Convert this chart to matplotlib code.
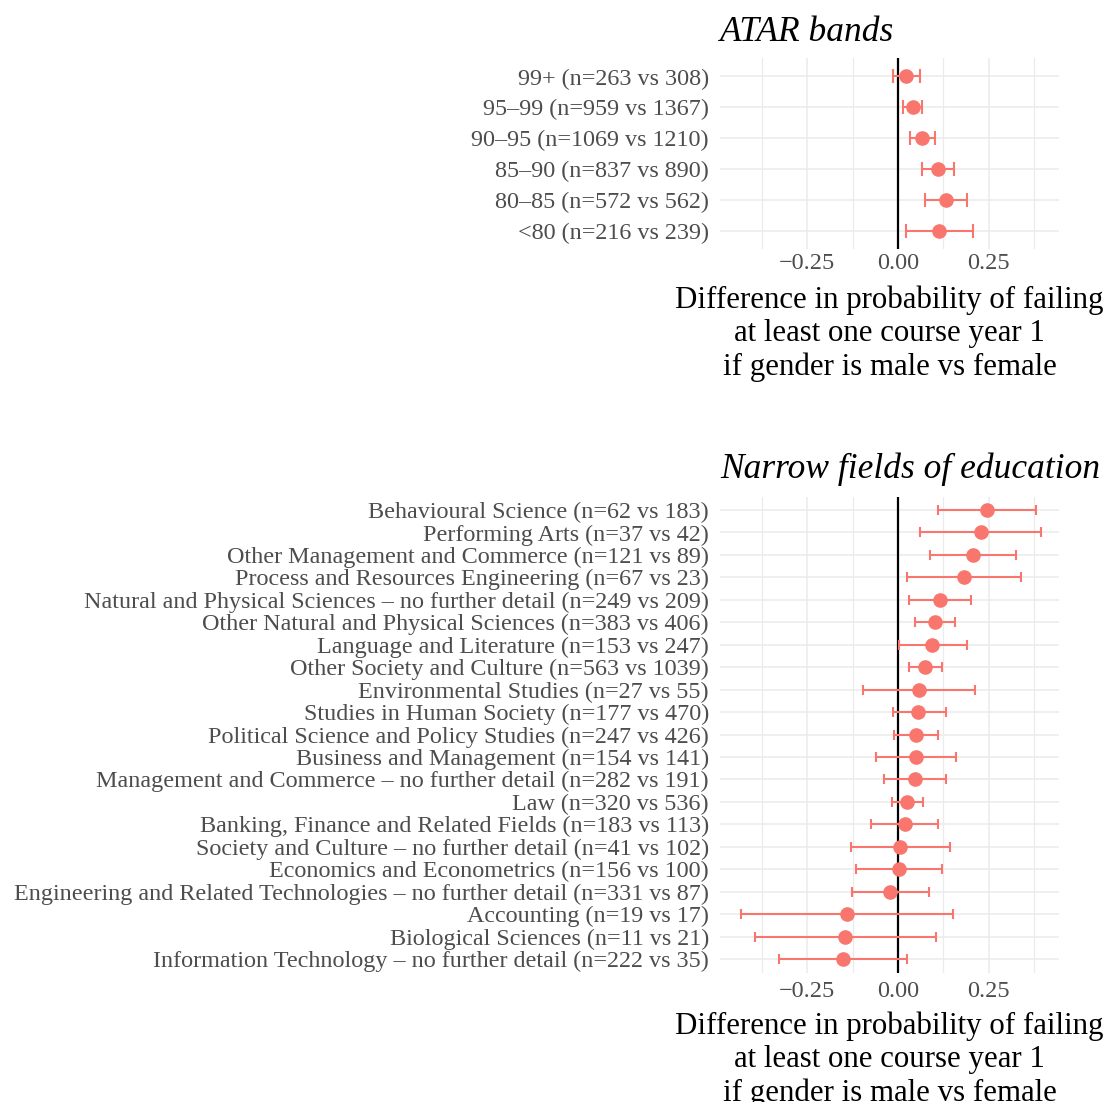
import numpy as np
import matplotlib.pyplot as plt

plt.rcParams['font.family'] = ['Liberation Serif', 'DejaVu Serif']

# ATAR bands panel
atar_labels = ['99+ (n=263 vs 308)', '95–99 (n=959 vs 1367)', '90–95 (n=1069 vs 1210)',
               '85–90 (n=837 vs 890)', '80–85 (n=572 vs 562)', '<80 (n=216 vs 239)']
atar_est = [0.023, 0.041, 0.067, 0.109, 0.131, 0.112]
atar_lo = [-0.014, 0.015, 0.034, 0.066, 0.075, 0.023]
atar_hi = [0.060, 0.067, 0.103, 0.154, 0.189, 0.205]

# narrow fields of education panel
field_labels = ['Behavioural Science (n=62 vs 183)',
                'Performing Arts (n=37 vs 42)',
                'Other Management and Commerce (n=121 vs 89)',
                'Process and Resources Engineering (n=67 vs 23)',
                'Natural and Physical Sciences – no further detail (n=249 vs 209)',
                'Other Natural and Physical Sciences (n=383 vs 406)',
                'Language and Literature (n=153 vs 247)',
                'Other Society and Culture (n=563 vs 1039)',
                'Environmental Studies (n=27 vs 55)',
                'Studies in Human Society (n=177 vs 470)',
                'Political Science and Policy Studies (n=247 vs 426)',
                'Business and Management (n=154 vs 141)',
                'Management and Commerce – no further detail (n=282 vs 191)',
                'Law (n=320 vs 536)',
                'Banking, Finance and Related Fields (n=183 vs 113)',
                'Society and Culture – no further detail (n=41 vs 102)',
                'Economics and Econometrics (n=156 vs 100)',
                'Engineering and Related Technologies – no further detail (n=331 vs 87)',
                'Accounting (n=19 vs 17)',
                'Biological Sciences (n=11 vs 21)',
                'Information Technology – no further detail (n=222 vs 35)']
field_est = [0.244, 0.227, 0.207, 0.182, 0.115, 0.101, 0.094, 0.075, 0.057, 0.056, 0.049,
             0.049, 0.047, 0.026, 0.018, 0.005, 0.002, -0.021, -0.141, -0.147, -0.152]
field_lo = [0.111, 0.060, 0.087, 0.026, 0.030, 0.046, 0.002, 0.030, -0.096, -0.015, -0.010,
            -0.062, -0.040, -0.017, -0.075, -0.130, -0.116, -0.126, -0.432, -0.395, -0.328]
field_hi = [0.380, 0.393, 0.326, 0.339, 0.200, 0.156, 0.189, 0.120, 0.212, 0.131, 0.109,
            0.159, 0.133, 0.070, 0.109, 0.142, 0.120, 0.084, 0.152, 0.104, 0.026]

xlab = 'Difference in probability of failing\nat least one course year 1\nif gender is male vs female'
red = '#F8766D'
W, H = 1106, 1102

fig = plt.figure(figsize=(W / 100, H / 100), dpi=100)


def box(left, top, right, bottom):
    return [left / W, 1 - bottom / H, (right - left) / W, (bottom - top) / H]


def panel(rect, labels, est, lo, hi, title, title_y, lab_y, capsize, tpad):
    ax = fig.add_axes(rect)
    est = np.array(est)
    y = np.arange(len(labels))[::-1]
    ax.axvline(0, color='black', lw=1.6, zorder=2)
    ax.errorbar(est, y, xerr=[est - np.array(lo), np.array(hi) - est], fmt='o', color=red,
                ms=9.5, elinewidth=1.5, capsize=capsize, capthick=1.5, zorder=3)
    ax.set_xlim(-0.49, 0.443)
    ax.set_ylim(-0.6, len(labels) - 0.4)
    ax.set_xticks([-0.25, 0, 0.25], ['−0.25', '0.00', '0.25'])
    ax.set_xticks([-0.375, -0.125, 0.125, 0.375], minor=True)
    ax.set_yticks(y, labels)
    ax.grid(which='major', color='#EBEBEB', lw=1.1)
    ax.grid(which='minor', axis='x', color='#EBEBEB', lw=0.9)
    ax.set_axisbelow(True)
    for s in ax.spines.values():
        s.set_visible(False)
    ax.tick_params(axis='both', which='both', length=0, colors='#4D4D4D')
    ax.tick_params(axis='x', labelsize=17.5, pad=tpad)
    ax.tick_params(axis='y', labelsize=17.4, pad=8)
    fig.text(rect[0], 1 - title_y / H, title, style='italic', fontsize=25.5,
             ha='left', va='baseline')
    # baseline of the last line of the axis title
    fig.text(rect[0] + rect[2] / 2, 1 - lab_y / H, xlab, fontsize=22.2, ha='center',
             va='baseline', linespacing=1.2)
    return ax


panel(box(720, 58, 1059, 249), atar_labels, atar_est, atar_lo, atar_hi,
      'ATAR bands', 41, 375, 5.3, 3)
panel(box(720, 496.5, 1059, 972.5), field_labels, field_est, field_lo, field_hi,
      'Narrow fields of education', 478, 1101, 3.8, 6)

fig.savefig('out.png', dpi=100)
